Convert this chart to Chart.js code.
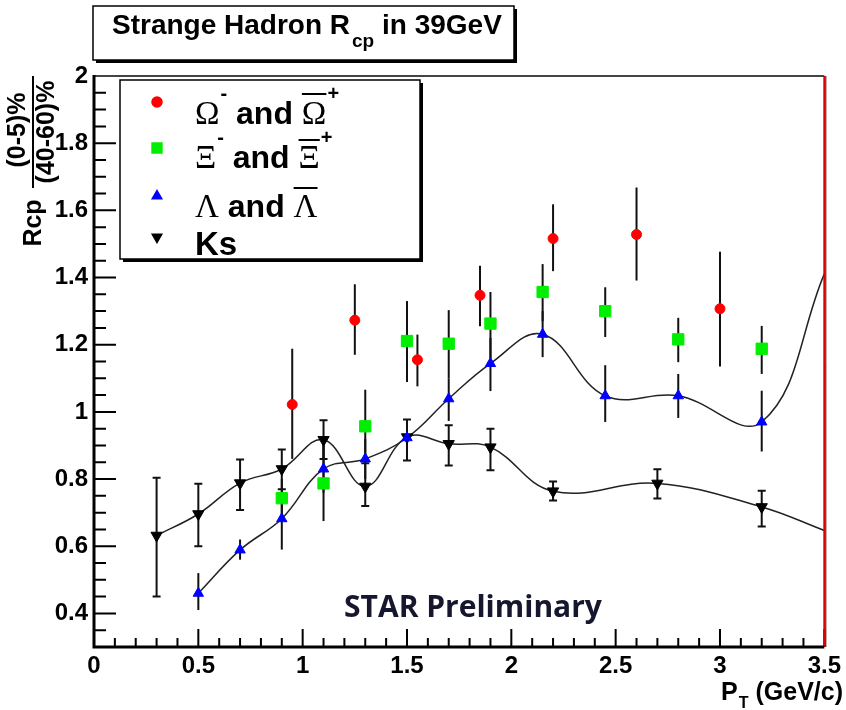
<!DOCTYPE html>
<html>
<head>
<meta charset="utf-8">
<script src="https://cdn.jsdelivr.net/npm/chart.js@4.4.1/dist/chart.umd.min.js"></script>
<style>
  body { margin: 0; background: #fff; }
  canvas { display: block; }
</style>
</head>
<body>
<canvas id="rcp" width="846" height="710"></canvas>
<script>
// Omega- and anti-Omega+
const omegaX    = [0.95, 1.25, 1.55, 1.85, 2.2, 2.6, 3.0];
const omegaY    = [1.022, 1.273, 1.155, 1.347, 1.516, 1.528, 1.307];
const omegaLow  = [0.86, 1.17, 1.076, 1.255, 1.419, 1.391, 1.135];
const omegaHigh = [1.188, 1.38, 1.23, 1.435, 1.618, 1.668, 1.477];

// Xi- and anti-Xi+
const xiX    = [0.9, 1.1, 1.3, 1.5, 1.7, 1.9, 2.15, 2.45, 2.8, 3.2];
const xiY    = [0.743, 0.787, 0.957, 1.211, 1.203, 1.263, 1.357, 1.30, 1.216, 1.188];
const xiLow  = [0.69, 0.675, 0.85, 1.089, 1.10, 1.16, 1.27, 1.223, 1.148, 1.113];
const xiHigh = [0.80, 0.90, 1.066, 1.33, 1.303, 1.357, 1.44, 1.371, 1.28, 1.256];

// Lambda and anti-Lambda
const lambdaX    = [0.5, 0.7, 0.9, 1.1, 1.3, 1.5, 1.7, 1.9, 2.15, 2.45, 2.8, 3.2];
const lambdaY    = [0.46, 0.589, 0.682, 0.83, 0.86, 0.923, 1.039, 1.144, 1.231, 1.048, 1.048, 0.97];
const lambdaLow  = [0.41, 0.56, 0.59, 0.76, 0.80, 0.87, 0.973, 1.062, 1.163, 0.97, 0.982, 0.882];
const lambdaHigh = [0.52, 0.62, 0.77, 0.90, 0.92, 0.975, 1.10, 1.22, 1.30, 1.139, 1.113, 1.063];

// K0s
const ksX    = [0.3, 0.5, 0.7, 0.9, 1.1, 1.3, 1.5, 1.7, 1.9, 2.2, 2.7, 3.2];
const ksY    = [0.632, 0.696, 0.788, 0.830, 0.917, 0.778, 0.925, 0.905, 0.895, 0.764, 0.787, 0.717];
const ksLow  = [0.45, 0.60, 0.708, 0.77, 0.86, 0.72, 0.855, 0.84, 0.826, 0.736, 0.742, 0.659];
const ksHigh = [0.804, 0.786, 0.858, 0.888, 0.975, 0.847, 0.977, 0.96, 0.95, 0.793, 0.829, 0.765];

// where the smooth curves end at the right edge
const ksCurveEnd     = { x: 3.5, y: 0.647 };
const lambdaCurveEnd = { x: 3.5, y: 1.411 };

const yTickValues = [0.4, 0.6, 0.8, 1, 1.2, 1.4, 1.6, 1.8, 2];

const pts = (xs, ys) => xs.map((x, i) => ({ x: x, y: ys[i] }));

const BOLD = '"Liberation Sans", Arial, sans-serif';
const SERIF = '"Liberation Serif", "Times New Roman", serif';

// error bars, drawn under the markers
const errorBars = {
  id: 'errorBars',
  beforeDatasetsDraw(chart) {
    const { ctx, scales: { x, y } } = chart;
    ctx.save();
    ctx.strokeStyle = '#111';
    ctx.lineWidth = 2;
    chart.data.datasets.forEach(ds => {
      if (!ds.errLow) return;
      ds.data.forEach((p, i) => {
        const px = x.getPixelForValue(p.x);
        const y1 = y.getPixelForValue(ds.errLow[i]);
        const y2 = y.getPixelForValue(ds.errHigh[i]);
        ctx.beginPath();
        ctx.moveTo(px, y1); ctx.lineTo(px, y2);
        if (ds.caps) {
          ctx.moveTo(px - 4, y1); ctx.lineTo(px + 4, y1);
          ctx.moveTo(px - 4, y2); ctx.lineTo(px + 4, y2);
        }
        ctx.stroke();
      });
    });
    ctx.restore();
  }
};

function shadowBox(ctx, x, y, w, h) {
  ctx.fillStyle = '#000';
  ctx.fillRect(x + 3, y + 3, w, h);
  ctx.fillStyle = '#fff';
  ctx.fillRect(x, y, w, h);
  ctx.strokeStyle = '#000';
  ctx.lineWidth = 1.5;
  ctx.strokeRect(x, y, w, h);
}

// draws a row of text pieces: {t, font, dy, over}
function drawPieces(ctx, x, base, pieces) {
  pieces.forEach(p => {
    ctx.font = p.font;
    const w = ctx.measureText(p.t).width;
    ctx.fillText(p.t, x, base + (p.dy || 0));
    if (p.over) {
      ctx.beginPath();
      ctx.lineWidth = 2;
      ctx.moveTo(x, base - p.over); ctx.lineTo(x + w, base - p.over);
      ctx.stroke();
    }
    x += w + (p.gap || 0);
  });
  return x;
}

const frame = {
  id: 'frame',
  afterDraw(chart) {
    const { ctx, chartArea: a, scales: { x, y } } = chart;
    ctx.save();

    // axis ticks, drawn inside the frame
    ctx.strokeStyle = '#000';
    ctx.lineWidth = 2;
    ctx.beginPath();
    for (let k = 7; k <= 40; k++) {
      const py = y.getPixelForValue(k * 0.05);
      const len = k % 4 === 0 ? 22 : 12;
      ctx.moveTo(a.left, py); ctx.lineTo(a.left + len, py);
    }
    for (let k = 1; k <= 35; k++) {
      const px = x.getPixelForValue(k * 0.1);
      const len = k % 5 === 0 ? 18 : 9;
      ctx.moveTo(px, a.bottom); ctx.lineTo(px, a.bottom - len);
    }
    ctx.stroke();

    // frame lines
    ctx.strokeStyle = '#444';
    ctx.lineWidth = 2;
    ctx.beginPath(); ctx.moveTo(a.left, a.top); ctx.lineTo(a.right, a.top); ctx.stroke();
    ctx.strokeStyle = '#300';
    ctx.lineWidth = 1;
    ctx.beginPath(); ctx.moveTo(a.right + 1.5, a.top); ctx.lineTo(a.right + 1.5, a.bottom); ctx.stroke();
    ctx.strokeStyle = '#e00000';
    ctx.lineWidth = 2;
    ctx.beginPath(); ctx.moveTo(a.right, a.top); ctx.lineTo(a.right, a.bottom); ctx.stroke();
    ctx.strokeStyle = '#000';
    ctx.lineWidth = 3;
    ctx.beginPath();
    ctx.moveTo(a.left, a.top - 1); ctx.lineTo(a.left, a.bottom); ctx.lineTo(a.right, a.bottom);
    ctx.stroke();

    // title box
    shadowBox(ctx, 93, 6, 421, 54);
    ctx.fillStyle = '#000';
    ctx.textBaseline = 'alphabetic';
    ctx.textAlign = 'left';
    drawPieces(ctx, 112, 34, [
      { t: 'Strange Hadron R', font: 'bold 28px ' + BOLD, gap: 2 },
      { t: 'cp', font: 'bold 19px ' + BOLD, dy: 13, gap: 0 },
      { t: ' in 39GeV', font: 'bold 28px ' + BOLD }
    ]);

    // legend
    shadowBox(ctx, 120, 80, 300, 179);
    const H = Chart.helpers;
    const marks = [
      { style: 'circle', r: 5, color: '#ff0000', y: 102 },
      { style: 'rect', r: 7, color: '#00ee00', y: 148 },
      { style: 'triangle', r: 5.5, color: '#0000ff', y: 196 },
      { style: 'triangle', r: 5.5, color: '#000', y: 237, rot: 180 }
    ];
    marks.forEach(m => {
      ctx.fillStyle = m.color; ctx.strokeStyle = m.color;
      H.drawPoint(ctx, { pointStyle: m.style, radius: m.r, rotation: m.rot || 0, borderWidth: 1 }, 157, m.y);
      ctx.fill();
    });
    ctx.fillStyle = '#000'; ctx.strokeStyle = '#000';
    const g = '33px ' + SERIF, b = 'bold 32px ' + BOLD, s = 'bold 20px ' + BOLD;
    drawPieces(ctx, 195, 124, [
      { t: 'Ω', font: g, gap: 1 }, { t: '-', font: s, dy: -24 },
      { t: ' and ', font: b }, { t: 'Ω', font: g, over: 30, gap: 1 }, { t: '+', font: s, dy: -24 }
    ]);
    drawPieces(ctx, 195, 168, [
      { t: 'Ξ', font: g, gap: 1 }, { t: '-', font: s, dy: -24 },
      { t: ' and ', font: b }, { t: 'Ξ', font: g, over: 28, gap: 1 }, { t: '+', font: s, dy: -24 }
    ]);
    drawPieces(ctx, 195, 217, [
      { t: 'Λ', font: g }, { t: ' and ', font: b }, { t: 'Λ', font: g, over: 29 }
    ]);
    drawPieces(ctx, 195, 255, [{ t: 'Ks', font: 'bold 33px ' + BOLD }]);

    // STAR Preliminary
    ctx.fillStyle = '#16162e';
    ctx.textAlign = 'center';
    ctx.font = 'bold 30px "Open Sans", sans-serif';
    ctx.fillText('STAR Preliminary', 473, 617);

    // x axis title, right aligned at the frame edge
    ctx.fillStyle = '#000';
    ctx.textAlign = 'left';
    const xt = [
      { t: 'P', font: 'bold 25px ' + BOLD, gap: 1 },
      { t: 'T', font: 'bold 16px ' + BOLD, dy: 8, gap: 0 },
      { t: ' (GeV/c)', font: 'bold 25px ' + BOLD }
    ];
    let tw = 0;
    xt.forEach(p => { ctx.font = p.font; tw += ctx.measureText(p.t).width + (p.gap || 0); });
    drawPieces(ctx, 843 - tw, 700, xt);

    // y axis title: Rcp (0-5)% / (40-60)%
    ctx.save();
    ctx.translate(34, 132);
    ctx.rotate(-Math.PI / 2);
    ctx.textAlign = 'center';
    ctx.textBaseline = 'middle';
    ctx.font = 'bold 25px ' + BOLD;
    ctx.fillText('Rcp', -91, 0);
    ctx.fillText('(0-5)%', 2, -16);
    ctx.fillText('(40-60)%', 0, 13);
    ctx.lineWidth = 2;
    ctx.beginPath(); ctx.moveTo(-56, -1); ctx.lineTo(56, -1); ctx.stroke();
    ctx.restore();

    ctx.restore();
  }
};

const curve = (data) => ({
  data: data, showLine: true, tension: 0.4, borderColor: '#222', borderWidth: 1.5,
  pointRadius: 0, order: 10
});

const tickFont = { family: BOLD, weight: 'bold', size: 24 };

new Chart(document.getElementById('rcp'), {
  type: 'scatter',
  data: {
    datasets: [
      curve(pts(ksX, ksY).concat([ksCurveEnd])),
      curve(pts(lambdaX, lambdaY).concat([lambdaCurveEnd])),
      {
        label: 'Omega', data: pts(omegaX, omegaY), errLow: omegaLow, errHigh: omegaHigh,
        pointStyle: 'circle', pointRadius: 5, backgroundColor: '#ff0000', borderColor: '#ff0000', order: 1
      },
      {
        label: 'Xi', data: pts(xiX, xiY), errLow: xiLow, errHigh: xiHigh,
        pointStyle: 'rect', pointRadius: 8, backgroundColor: '#00ee00', borderColor: '#00ee00', order: 2
      },
      {
        label: 'Lambda', data: pts(lambdaX, lambdaY), errLow: lambdaLow, errHigh: lambdaHigh,
        pointStyle: 'triangle', pointRadius: 6, backgroundColor: '#0000ff', borderColor: '#0000ff', order: 3
      },
      {
        label: 'Ks', data: pts(ksX, ksY), errLow: ksLow, errHigh: ksHigh, caps: true,
        pointStyle: 'triangle', pointRotation: 180, pointRadius: 6.5,
        backgroundColor: '#000', borderColor: '#000', order: 4
      }
    ]
  },
  options: {
    responsive: false,
    animation: false,
    layout: { padding: { left: 0, top: 76, right: 14, bottom: 0 } },
    plugins: { legend: { display: false }, tooltip: { enabled: false } },
    scales: {
      x: {
        type: 'linear', min: 0, max: 3.5,
        grid: { display: false, drawTicks: false },
        border: { display: false },
        ticks: {
          stepSize: 0.5, padding: 5, color: '#000', maxRotation: 0, autoSkip: false,
          font: tickFont,
          callback: v => String(Math.round(v * 10) / 10)
        },
        afterFit(s) { s.height = 63; }
      },
      y: {
        type: 'linear', min: 0.3, max: 2,
        grid: { display: false, drawTicks: false },
        border: { display: false },
        afterBuildTicks(s) { s.ticks = yTickValues.map(v => ({ value: v })); },
        ticks: {
          padding: 6, color: '#000',
          font: tickFont,
          callback: v => String(Math.round(v * 10) / 10)
        },
        afterFit(s) { s.width = 94; }
      }
    }
  },
  plugins: [errorBars, frame]
});
</script>
</body>
</html>
